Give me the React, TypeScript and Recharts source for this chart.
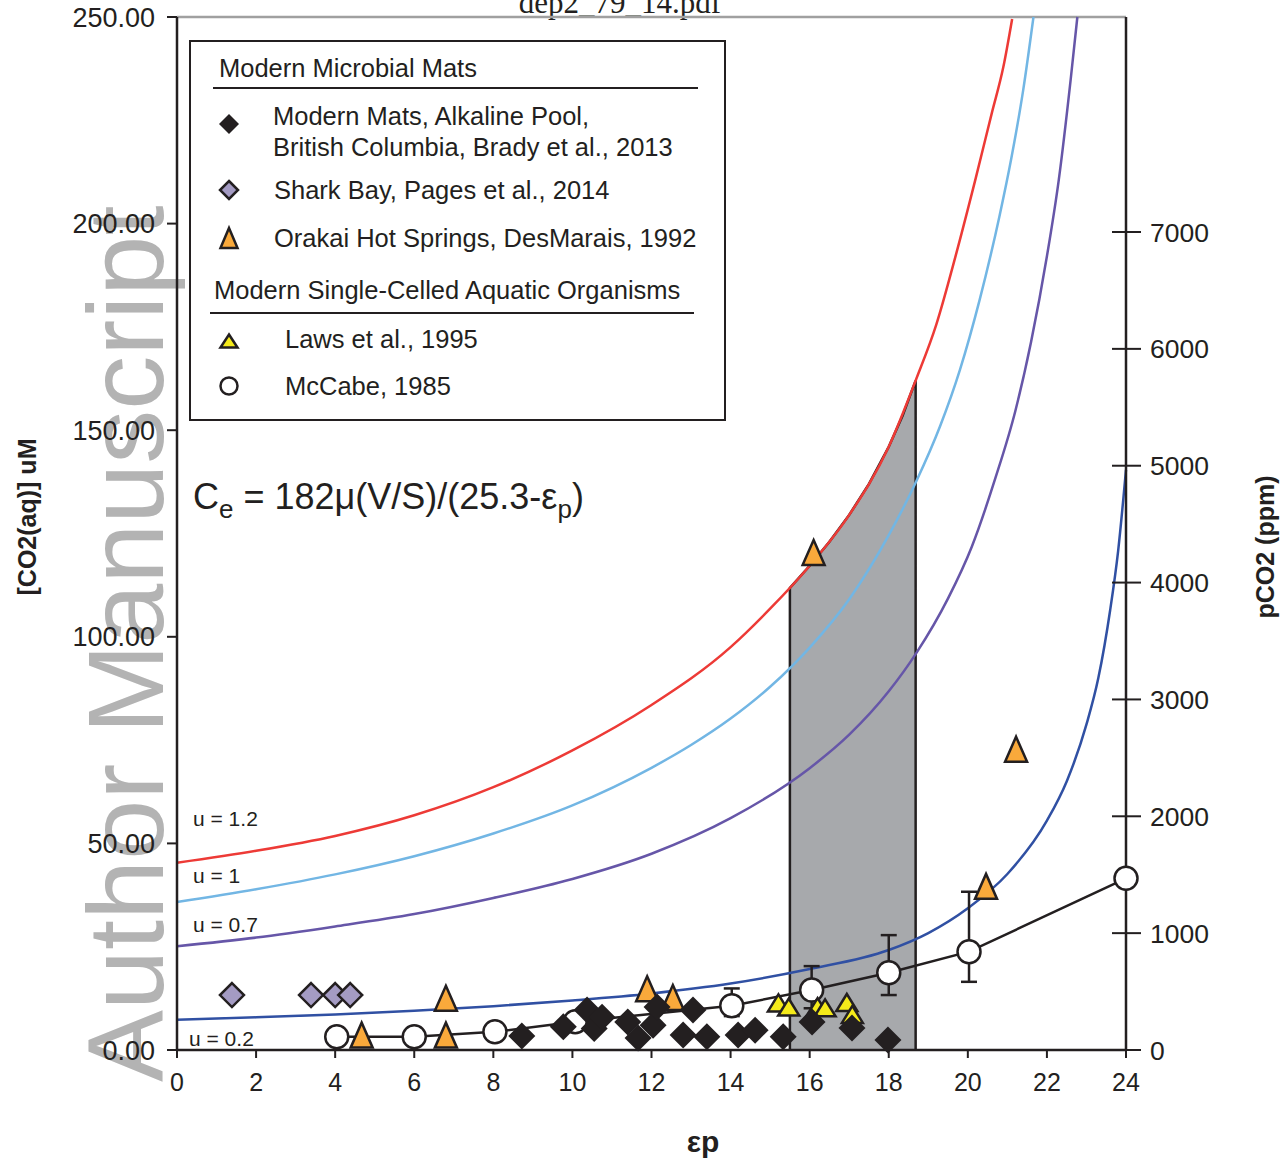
import { ComposedChart, XAxis, YAxis, Line, Area, Scatter, ErrorBar, ReferenceLine, Legend } from 'recharts';

const FONT = '"Liberation Sans", Arial, Helvetica, sans-serif';
const INK = '#231f20';

const xTicks = [0, 2, 4, 6, 8, 10, 12, 14, 16, 18, 20, 22, 24];
const leftTicks = [0, 50, 100, 150, 200, 250];
const rightTicks = [0, 1000, 2000, 3000, 4000, 5000, 6000, 7000];

// model curves, values
const u12X = [0, 2, 4, 6, 8, 10, 12, 14, 15, 16, 17, 18, 18.7, 19.2, 19.7, 20.2, 20.6, 20.9, 21.12];
const u12Y = [45.3, 48.2, 51.8, 56.8, 63.6, 72.5, 83.5, 97.5, 106.8, 117.2, 129.5, 146, 162.5, 175.5, 192.5, 211, 226.5, 238, 249.5];
const u10X = [0, 2, 4, 6, 8, 10, 12, 13, 14, 15, 16, 17, 18, 18.7, 19.3, 19.8, 20.3, 20.8, 21.1, 21.4, 21.66];
const u10Y = [35.8, 38.9, 42.5, 46.9, 52.4, 59.2, 68.3, 73.8, 80.2, 87.9, 97.4, 109.1, 124.6, 137.7, 151, 164.6, 181.6, 201.8, 215.8, 232.3, 250];
const u07X = [0, 2, 4, 6, 8, 10, 12, 14, 16, 17, 18, 18.7, 19.5, 20.1, 20.7, 21.2, 21.6, 22, 22.3, 22.6, 22.77];
const u07Y = [25.1, 27.2, 29.9, 32.9, 36.8, 41.4, 47.5, 56.1, 68.2, 76.3, 86.8, 96.1, 109.3, 121.8, 138.5, 154.6, 171.4, 192.1, 210.6, 234.8, 250];
const u02X = [0, 2, 4, 6, 8, 10, 12, 14, 16, 18, 19, 20, 21, 22, 22.5, 23, 23.3, 23.6, 23.8, 24];
const u02Y = [7.3, 7.9, 8.6, 9.5, 10.6, 12.0, 13.7, 16.1, 19.6, 24.2, 28.3, 34.3, 42.6, 55.5, 65, 78.8, 90, 106.5, 120.7, 140.4];

// shaded window
const shadeX = [15.5, 15.5, 16, 16.5, 17, 17.5, 18, 18.35, 18.68, 18.68];
const shadeY = [0, 111.8, 117.2, 123, 129.5, 137, 146, 153.5, 162, 0];

// observations
const matsX = [8.72, 9.77, 10.37, 10.55, 10.75, 11.4, 11.66, 12.04, 12.14, 12.8, 13.05, 13.4, 14.19, 14.62, 15.33, 16.06, 17.07, 17.98];
const matsY = [3.4, 5.6, 9.7, 5.2, 7.9, 6.8, 2.9, 6.0, 10.4, 3.6, 9.7, 3.2, 3.6, 4.8, 3.2, 6.8, 5.3, 2.4];
const sharkX = [1.39, 3.39, 4.0, 4.38];
const sharkY = [13.3, 13.3, 13.3, 13.3];
const orakaiX = [4.67, 6.8, 6.8, 11.89, 12.54, 16.1, 20.46, 21.22];
const orakaiY = [3.6, 3.6, 12.5, 14.8, 12.7, 120.4, 39.6, 72.8];
const lawsX = [15.21, 15.47, 16.2, 16.39, 16.94, 17.08];
const lawsY = [11.4, 10.4, 10.5, 10.2, 11.5, 8.6];
const mccabeX = [4.04, 6.0, 8.04, 10.07, 14.03, 16.05, 18.0, 20.03, 24.0];
const mccabeY = [3.2, 3.2, 4.4, 6.85, 10.7, 14.5, 18.7, 23.8, 41.55];
const mccabeErr: [number, number][] = [[0, 0], [0, 0], [0, 0], [0, 0], [2.5, 4.2], [4.4, 5.8], [5.4, 9.1], [7.3, 14.5], [0, 0]];

const zip = (xs: number[], ys: number[]) => xs.map((x, i) => ({ x, y: ys[i] }));

const u12 = zip(u12X, u12Y);
const u10 = zip(u10X, u10Y);
const u07 = zip(u07X, u07Y);
const u02 = zip(u02X, u02Y);
const shade = zip(shadeX, shadeY);
const mats = zip(matsX, matsY);
const shark = zip(sharkX, sharkY);
const orakai = zip(orakaiX, orakaiY);
const laws = zip(lawsX, lawsY);
const mccabe = mccabeX.map((x, i) => ({ x, y: mccabeY[i], err: mccabeErr[i] }));

const diamond = (cx: number, cy: number, r: number, fill: string, stroke?: string) => (
  <polygon
    points={`${cx},${cy - r} ${cx + r},${cy} ${cx},${cy + r} ${cx - r},${cy}`}
    fill={fill}
    stroke={stroke || 'none'}
    strokeWidth={2.5}
    strokeLinejoin="miter"
  />
);

const triangle = (cx: number, cy: number, w: number, h: number, fill: string) => (
  <polygon
    points={`${cx},${cy - h / 2} ${cx + w / 2},${cy + h / 2} ${cx - w / 2},${cy + h / 2}`}
    fill={fill}
    stroke={INK}
    strokeWidth={2.5}
    strokeLinejoin="miter"
  />
);

const MatsShape = (p: any) => diamond(p.cx, p.cy, 13.5, INK);
const SharkShape = (p: any) => diamond(p.cx, p.cy, 12, '#a49bc3', INK);
const OrakaiShape = (p: any) => triangle(p.cx, p.cy, 22, 25, '#f9a93b');
const LawsShape = (p: any) => triangle(p.cx, p.cy, 21, 17, '#f5ea1a');
const CircleShape = (p: any) => <circle cx={p.cx} cy={p.cy} r={11.5} fill="#fff" stroke={INK} strokeWidth={2.5} />;

function RightTick(props: any) {
  const { x, y, payload } = props;
  return (
    <g>
      <line x1={x - 38} x2={x - 9} y1={y} y2={y} stroke={INK} strokeWidth={2} />
      <text x={x} y={y} dy="0.36em" textAnchor="start" fontSize={26.5} fill={INK} fontFamily={FONT}>
        {payload.value}
      </text>
    </g>
  );
}

function LegendBox() {
  const t = { fontFamily: FONT, fontSize: 25.5, fill: INK } as const;
  return (
    <svg width={537} height={381} style={{ display: 'block', background: '#fff' }}>
      <rect x={1} y={1} width={535} height={379} fill="#fff" stroke={INK} strokeWidth={2} />
      <text x={30} y={37} {...t}>Modern Microbial Mats</text>
      <line x1={24} x2={509} y1={48} y2={48} stroke={INK} strokeWidth={2} />
      {diamond(40, 84, 10, INK)}
      <text x={84} y={85} {...t}>Modern Mats, Alkaline Pool,</text>
      <text x={84} y={116} {...t}>British Columbia, Brady et al., 2013</text>
      {diamond(40, 150, 9, '#a49bc3', INK)}
      <text x={85} y={159} {...t}>Shark Bay, Pages et al., 2014</text>
      {triangle(40, 198, 17, 20, '#f9a93b')}
      <text x={85} y={207} {...t}>Orakai Hot Springs, DesMarais, 1992</text>
      <text x={25} y={259} {...t}>Modern Single-Celled Aquatic Organisms</text>
      <line x1={21} x2={505} y1={273} y2={273} stroke={INK} strokeWidth={2} />
      {triangle(40, 301, 17, 13, '#f5ea1a')}
      <text x={96} y={308} {...t}>Laws et al., 1995</text>
      <circle cx={40} cy={346} r={8.5} fill="#fff" stroke={INK} strokeWidth={2.5} />
      <text x={96} y={355} {...t}>McCabe, 1985</text>
    </svg>
  );
}

export default function App() {
  return (
    <div style={{ position: 'absolute', left: 0, top: 0, width: 1280, height: 1160, background: '#fff' }}>
      <svg width={1280} height={1160} style={{ position: 'absolute', left: 0, top: 0 }}>
        <text transform="rotate(-90)" x={-1082} y={163} fontSize={108} fill="#b3b3b3" fontFamily={FONT}>
          Author Manuscript
        </text>
      </svg>
      <div style={{ position: 'absolute', left: 0, top: 0 }}>
        <ComposedChart width={1280} height={1160} margin={{ top: 17, right: 0, bottom: 0, left: 0 }}>
          <XAxis
            type="number"
            dataKey="x"
            domain={[0, 24]}
            ticks={xTicks}
            height={110}
            tickSize={8}
            tickMargin={15}
            axisLine={{ stroke: INK, strokeWidth: 2.5 }}
            tickLine={{ stroke: INK, strokeWidth: 2 }}
            tick={{ fontSize: 25, fill: INK, fontFamily: FONT }}
          />
          <YAxis
            yAxisId="left"
            type="number"
            dataKey="y"
            domain={[0, 250]}
            ticks={leftTicks}
            width={177}
            tickSize={10}
            tickMargin={12}
            tickFormatter={(v: number) => v.toFixed(2)}
            axisLine={{ stroke: INK, strokeWidth: 2.5 }}
            tickLine={{ stroke: INK, strokeWidth: 2 }}
            tick={{ fontSize: 27, fill: INK, fontFamily: FONT }}
          />
          <YAxis
            yAxisId="right"
            orientation="right"
            type="number"
            domain={[0, 8840]}
            ticks={rightTicks}
            width={154}
            tickSize={14}
            tickMargin={10}
            tickLine={false}
            axisLine={{ stroke: INK, strokeWidth: 2.5 }}
            tick={<RightTick />}
            allowDataOverflow
          />
          <ReferenceLine yAxisId="left" y={250} stroke="#a0a0a0" strokeWidth={2.5} />

          <Area
            yAxisId="left"
            data={shade}
            dataKey="y"
            type="linear"
            fill="#a7a9ac"
            fillOpacity={1}
            stroke={INK}
            strokeWidth={2.5}
            isAnimationActive={false}
          />
          <Line yAxisId="left" data={u12} dataKey="y" type="monotone" stroke="#ed3a36" strokeWidth={2.5} dot={false} isAnimationActive={false} />
          <Line yAxisId="left" data={u10} dataKey="y" type="monotone" stroke="#72b6e4" strokeWidth={2.5} dot={false} isAnimationActive={false} />
          <Line yAxisId="left" data={u07} dataKey="y" type="monotone" stroke="#6656a8" strokeWidth={2.5} dot={false} isAnimationActive={false} />
          <Line yAxisId="left" data={u02} dataKey="y" type="monotone" stroke="#3050a3" strokeWidth={2.5} dot={false} isAnimationActive={false} />

          <Scatter
            yAxisId="left"
            data={mccabe}
            line={{ stroke: INK, strokeWidth: 2.5 }}
            shape={CircleShape}
            isAnimationActive={false}
          >
            <ErrorBar dataKey="err" direction="y" width={8} stroke={INK} strokeWidth={2.5} />
          </Scatter>
          <Scatter yAxisId="left" data={orakai} shape={OrakaiShape} isAnimationActive={false} />
          <Scatter yAxisId="left" data={laws} shape={LawsShape} isAnimationActive={false} />
          <Scatter yAxisId="left" data={shark} shape={SharkShape} isAnimationActive={false} />
          <Scatter yAxisId="left" data={mats} shape={MatsShape} isAnimationActive={false} />

          <Legend
            layout="vertical"
            align="center"
            verticalAlign="middle"
            content={() => <LegendBox />}
            wrapperStyle={{ left: 189, top: 40, width: 537, height: 381 }}
          />

          <text x={620} y={13} textAnchor="middle" fontSize={31} fill={INK} fontFamily='"Liberation Serif", "Times New Roman", serif'>
            dep2_79_14.pdf
          </text>
          <text x={193} y={509} fontSize={36} fill={INK} fontFamily={FONT}>
            C<tspan dy={9} fontSize={26}>e</tspan>
            <tspan dy={-9}> = 182μ(V/S)/(25.3-ε</tspan>
            <tspan dy={9} fontSize={26}>p</tspan>
            <tspan dy={-9}>)</tspan>
          </text>
          <text x={193} y={826} fontSize={21} fill={INK} fontFamily={FONT}>u = 1.2</text>
          <text x={193} y={883} fontSize={21} fill={INK} fontFamily={FONT}>u = 1</text>
          <text x={193} y={932} fontSize={21} fill={INK} fontFamily={FONT}>u = 0.7</text>
          <text x={189} y={1046} fontSize={21} fill={INK} fontFamily={FONT}>u = 0.2</text>
          <text
            x={27}
            y={517}
            transform="rotate(-90, 27, 517)"
            textAnchor="middle"
            dominantBaseline="central"
            fontSize={25}
            fontWeight="bold"
            fill={INK}
            fontFamily={FONT}
          >
            [CO2(aq)] uM
          </text>
          <text
            x={1265}
            y={547}
            transform="rotate(-90, 1265, 547)"
            textAnchor="middle"
            dominantBaseline="central"
            fontSize={25}
            fontWeight="bold"
            fill={INK}
            fontFamily={FONT}
          >
            pCO2 (ppm)
          </text>
          <text x={703} y={1152} textAnchor="middle" fontSize={30} fontWeight="bold" fill={INK} fontFamily={FONT}>
            εp
          </text>
        </ComposedChart>
      </div>
    </div>
  );
}
